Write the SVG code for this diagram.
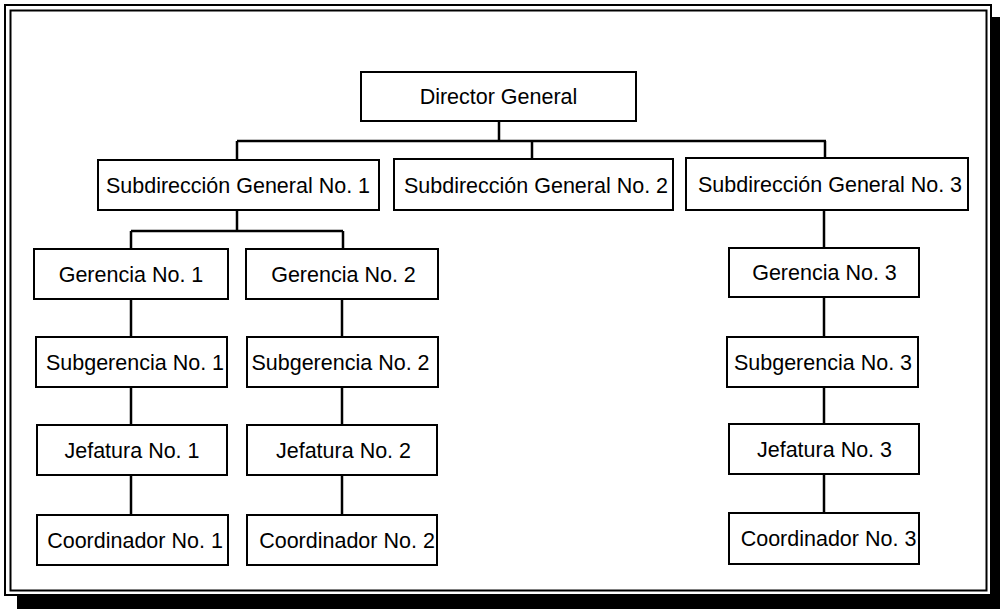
<svg xmlns="http://www.w3.org/2000/svg" width="1000" height="609" viewBox="0 0 1000 609">
  <style>
    .box { fill: #ffffff; stroke: #000000; stroke-width: 2; }
    .lbl { font-family: "Liberation Sans", Arial, sans-serif; font-size: 21.5px; fill: #000000; text-anchor: middle; }
    .wire { fill: none; stroke: #000000; stroke-width: 2.5; }
    .frame { fill: none; stroke: #000000; stroke-width: 2; }
  </style>

  <!-- page background and drop shadow -->
  <rect x="0" y="0" width="1000" height="609" fill="#ffffff"/>
  <rect x="17" y="17" width="983" height="592" fill="#000000"/>
  <rect x="5" y="5" width="986" height="590" fill="#ffffff"/>

  <!-- double border -->
  <g id="frame">
    <rect class="frame" x="5" y="5" width="986" height="590"/>
    <rect class="frame" x="10.5" y="10.5" width="976" height="580"/>
  </g>

  <!-- connectors -->
  <g id="connectors">
    <path class="wire" d="M499 121 V141 M237 141 H826 M237 141 V160 M532 141 V159 M825 141 V158"/>
    <path class="wire" d="M237 210 V231 M131 231 H343 M131 231 V249 M343 231 V249"/>
    <path class="wire" d="M131 299 V337 M131 387 V425 M131 475 V515"/>
    <path class="wire" d="M342 299 V337 M342 387 V425 M342 475 V515"/>
    <path class="wire" d="M824 210 V248 M824 297 V337 M824 387 V424 M824 474 V513"/>
  </g>

  <g id="director-general">
    <rect class="box" x="361" y="72" width="275" height="49"/>
    <text class="lbl" x="498.5" y="104">Director General</text>
  </g>

  <g id="subdireccion-1">
    <rect class="box" x="98" y="160" width="281" height="50"/>
    <text class="lbl" x="238" y="193">Subdirección General No. 1</text>
  </g>
  <g id="subdireccion-2">
    <rect class="box" x="394" y="159" width="279" height="51"/>
    <text class="lbl" x="536" y="193">Subdirección General No. 2</text>
  </g>
  <g id="subdireccion-3">
    <rect class="box" x="686" y="158" width="282" height="52"/>
    <text class="lbl" x="830" y="192">Subdirección General No. 3</text>
  </g>

  <g id="gerencia-1">
    <rect class="box" x="34" y="249" width="194" height="50"/>
    <text class="lbl" x="131" y="282">Gerencia No. 1</text>
  </g>
  <g id="gerencia-2">
    <rect class="box" x="246" y="249" width="192" height="50"/>
    <text class="lbl" x="343.5" y="282">Gerencia No. 2</text>
  </g>
  <g id="gerencia-3">
    <rect class="box" x="729" y="248" width="190" height="49"/>
    <text class="lbl" x="824.5" y="280">Gerencia No. 3</text>
  </g>

  <g id="subgerencia-1">
    <rect class="box" x="36" y="337" width="191" height="50"/>
    <text class="lbl" x="135" y="370">Subgerencia No. 1</text>
  </g>
  <g id="subgerencia-2">
    <rect class="box" x="247" y="337" width="191" height="50"/>
    <text class="lbl" x="340.5" y="370">Subgerencia No. 2</text>
  </g>
  <g id="subgerencia-3">
    <rect class="box" x="727" y="337" width="191" height="50"/>
    <text class="lbl" x="823" y="370">Subgerencia No. 3</text>
  </g>

  <g id="jefatura-1">
    <rect class="box" x="37" y="425" width="190" height="50"/>
    <text class="lbl" x="132" y="458">Jefatura No. 1</text>
  </g>
  <g id="jefatura-2">
    <rect class="box" x="247" y="425" width="190" height="50"/>
    <text class="lbl" x="343.5" y="458">Jefatura No. 2</text>
  </g>
  <g id="jefatura-3">
    <rect class="box" x="729" y="424" width="190" height="50"/>
    <text class="lbl" x="824.5" y="457">Jefatura No. 3</text>
  </g>

  <g id="coordinador-1">
    <rect class="box" x="37" y="515" width="191" height="50"/>
    <text class="lbl" x="135" y="548">Coordinador No. 1</text>
  </g>
  <g id="coordinador-2">
    <rect class="box" x="247" y="515" width="190" height="50"/>
    <text class="lbl" x="347" y="548">Coordinador No. 2</text>
  </g>
  <g id="coordinador-3">
    <rect class="box" x="729" y="513" width="190" height="51"/>
    <text class="lbl" x="828.5" y="546">Coordinador No. 3</text>
  </g>
</svg>
